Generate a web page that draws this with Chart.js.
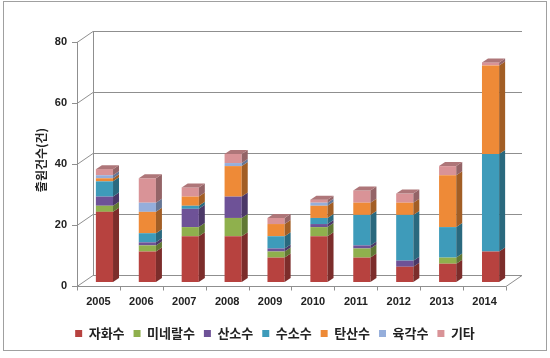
<!DOCTYPE html>
<html><head><meta charset="utf-8">
<script src="https://cdn.jsdelivr.net/npm/chart.js@4.4.0/dist/chart.umd.min.js"></script>
<style>html,body{margin:0;padding:0;background:#fff;}#wrap{width:550px;height:358px;position:relative}</style>
</head><body><div id="wrap"><canvas id="c" width="550" height="358"></canvas></div>
<script>
// ---- data ----
const categories = ['2005','2006','2007','2008','2009','2010','2011','2012','2013','2014'];
const seriesNames = ['자화수','미네랄수','산소수','수소수','탄산수','육각수','기타'];
const magnetized = [23,10,15,15,8,15,8,5,6,10];
const mineral    = [2,2,3,6,2,3,3,0,2,0];
const oxygen     = [3,1,6,7,1,1,1,2,0,0];
const hydrogen   = [5,3,1,0,4,2,10,15,10,32];
const carbonated = [1,7,3,10,4,4,4,4,17,29];
const hexagonal  = [1,3,0,1,0,1,0,0,0,0];
const other      = [2,8,3,3,2,1,4,3,3,1];
const yTicks = [0,20,40,60,80];
const yTitle = '출원건수(건)';

// ---- style ----
const colors = ['#B7423F','#8FB04D','#6E5297','#3E9BBA','#EE8A37','#95AEDB','#D99397'];
const seriesValues = [magnetized, mineral, oxygen, hydrogen, carbonated, hexagonal, other];
const FRONT = {dx:-6, dy:4}, BACK = {dx:10, dy:-7}, DEPTH = {dx:6, dy:-4};
const GRID = '#8f8f8f';

function shade(hex, f){
  const n = parseInt(hex.slice(1),16);
  const r = Math.round(((n>>16)&255)*f), g = Math.round(((n>>8)&255)*f), b = Math.round((n&255)*f);
  return `rgb(${r},${g},${b})`;
}

const wallsPlugin = {
  id:'walls',
  beforeDraw(chart){
    const ctx = chart.ctx;
    ctx.save();
    ctx.fillStyle = '#fff';
    ctx.fillRect(0,0,chart.width,chart.height);
    ctx.strokeStyle = '#a0a0a0';
    ctx.lineWidth = 1;
    ctx.strokeRect(3.5, 1.5, 543, 349);
    ctx.restore();
  },
  beforeDatasetsDraw(chart){
    const {ctx, chartArea:ca, scales:{x:xs, y:ys}} = chart;
    ctx.save();
    ctx.strokeStyle = GRID;
    ctx.lineWidth = 1;
    const line = (x1,y1,x2,y2)=>{ctx.beginPath();ctx.moveTo(x1,y1);ctx.lineTo(x2,y2);ctx.stroke();};
    const fl = ca.left + FRONT.dx, bl = ca.left + BACK.dx;
    const fr = ca.right + FRONT.dx, br = ca.right + BACK.dx;
    const top = ys.getPixelForValue(yTicks[yTicks.length-1]);
    const bot = ys.getPixelForValue(0);
    yTicks.forEach(v=>{
      const yv = Math.round(ys.getPixelForValue(v)) + 0.5;
      line(bl, yv+BACK.dy, br, yv+BACK.dy);
      line(fl, yv+FRONT.dy, bl, yv+BACK.dy);
      line(fl-5, yv+FRONT.dy, fl, yv+FRONT.dy);
    });
    line(bl+0.5, top+BACK.dy, bl+0.5, bot+BACK.dy);
    line(fl+0.5, top+FRONT.dy, fl+0.5, bot+FRONT.dy+0.5);
    const fb = Math.round(bot)+FRONT.dy+0.5;
    line(fl, fb, fr, fb);
    line(fr, fb, br, Math.round(bot)+BACK.dy+0.5);
    const step = xs.getPixelForValue(1) - xs.getPixelForValue(0);
    for (let i=0;i<=categories.length;i++){
      const xv = Math.round(xs.getPixelForValue(0) - step/2 + i*step + FRONT.dx) + 0.5;
      line(xv, fb, xv, fb+4);
    }
    ctx.restore();
  },
  afterDatasetsDraw(chart){
    const ctx = chart.ctx;
    ctx.save();
    const topIdx = {};
    chart.data.datasets.forEach((ds,i)=>{
      const meta = chart.getDatasetMeta(i);
      meta.data.forEach((el,j)=>{
        if (!(ds.data[j] > 0)) return;
        const p = el.getProps(['x','y','base','width'], true);
        const r = p.x + p.width/2;
        ctx.fillStyle = shade(colors[i], 0.68);
        ctx.beginPath();
        ctx.moveTo(r, p.y); ctx.lineTo(r+DEPTH.dx, p.y+DEPTH.dy);
        ctx.lineTo(r+DEPTH.dx, p.base+DEPTH.dy); ctx.lineTo(r, p.base);
        ctx.closePath(); ctx.fill();
        topIdx[j] = {i, p};
      });
    });
    Object.values(topIdx).forEach(({i,p})=>{
      const l = p.x - p.width/2, r = p.x + p.width/2;
      ctx.fillStyle = shade(colors[i], 0.8);
      ctx.beginPath();
      ctx.moveTo(l, p.y); ctx.lineTo(l+DEPTH.dx, p.y+DEPTH.dy);
      ctx.lineTo(r+DEPTH.dx, p.y+DEPTH.dy); ctx.lineTo(r, p.y);
      ctx.closePath(); ctx.fill();
    });
    ctx.restore();
  }
};

new Chart(document.getElementById('c'), {
  type:'bar',
  data:{
    labels: categories,
    datasets: seriesNames.map((name,i)=>({
      label:name, data:seriesValues[i], backgroundColor:colors[i], borderWidth:0,
      categoryPercentage:0.8, barPercentage:0.5
    }))
  },
  options:{
    responsive:false, animation:false, devicePixelRatio:1,
    layout:{padding:{top:38, right:0, bottom:8, left:0}},
    plugins:{
      legend:{position:'bottom', labels:{boxWidth:7, boxHeight:7, padding:9, color:'#222',
        font:{family:'"Noto Sans CJK KR", sans-serif', size:13, weight:'bold'}}},
      tooltip:{enabled:false}
    },
    scales:{
      x:{stacked:true, grid:{display:false, drawTicks:false}, border:{display:false},
        ticks:{padding:13, labelOffset:-6, color:'#222', font:{family:'"Liberation Sans", Arial, sans-serif', size:11, weight:'bold'}},
        afterFit(s){ s.height = 36; }},
      y:{stacked:true, min:0, max:80, grid:{display:false, drawTicks:false}, border:{display:false},
        afterBuildTicks(s){ s.ticks = yTicks.map(v=>({value:v})); },
        ticks:{padding:16, labelOffset:4, color:'#222', font:{family:'"Liberation Sans", Arial, sans-serif', size:11, weight:'bold'}},
        title:{display:true, text:yTitle, color:'#222', padding:{top:34,bottom:0},
          font:{family:'"Noto Sans CJK KR", sans-serif', size:12, weight:'bold'}},
        afterFit(s){ s.width = 83; }},
      yRight:{position:'right', display:true, grid:{display:false, drawTicks:false}, border:{display:false},
        ticks:{display:false}, afterFit(s){ s.width = 38; }}
    }
  },
  plugins:[wallsPlugin]
});
</script></body></html>
